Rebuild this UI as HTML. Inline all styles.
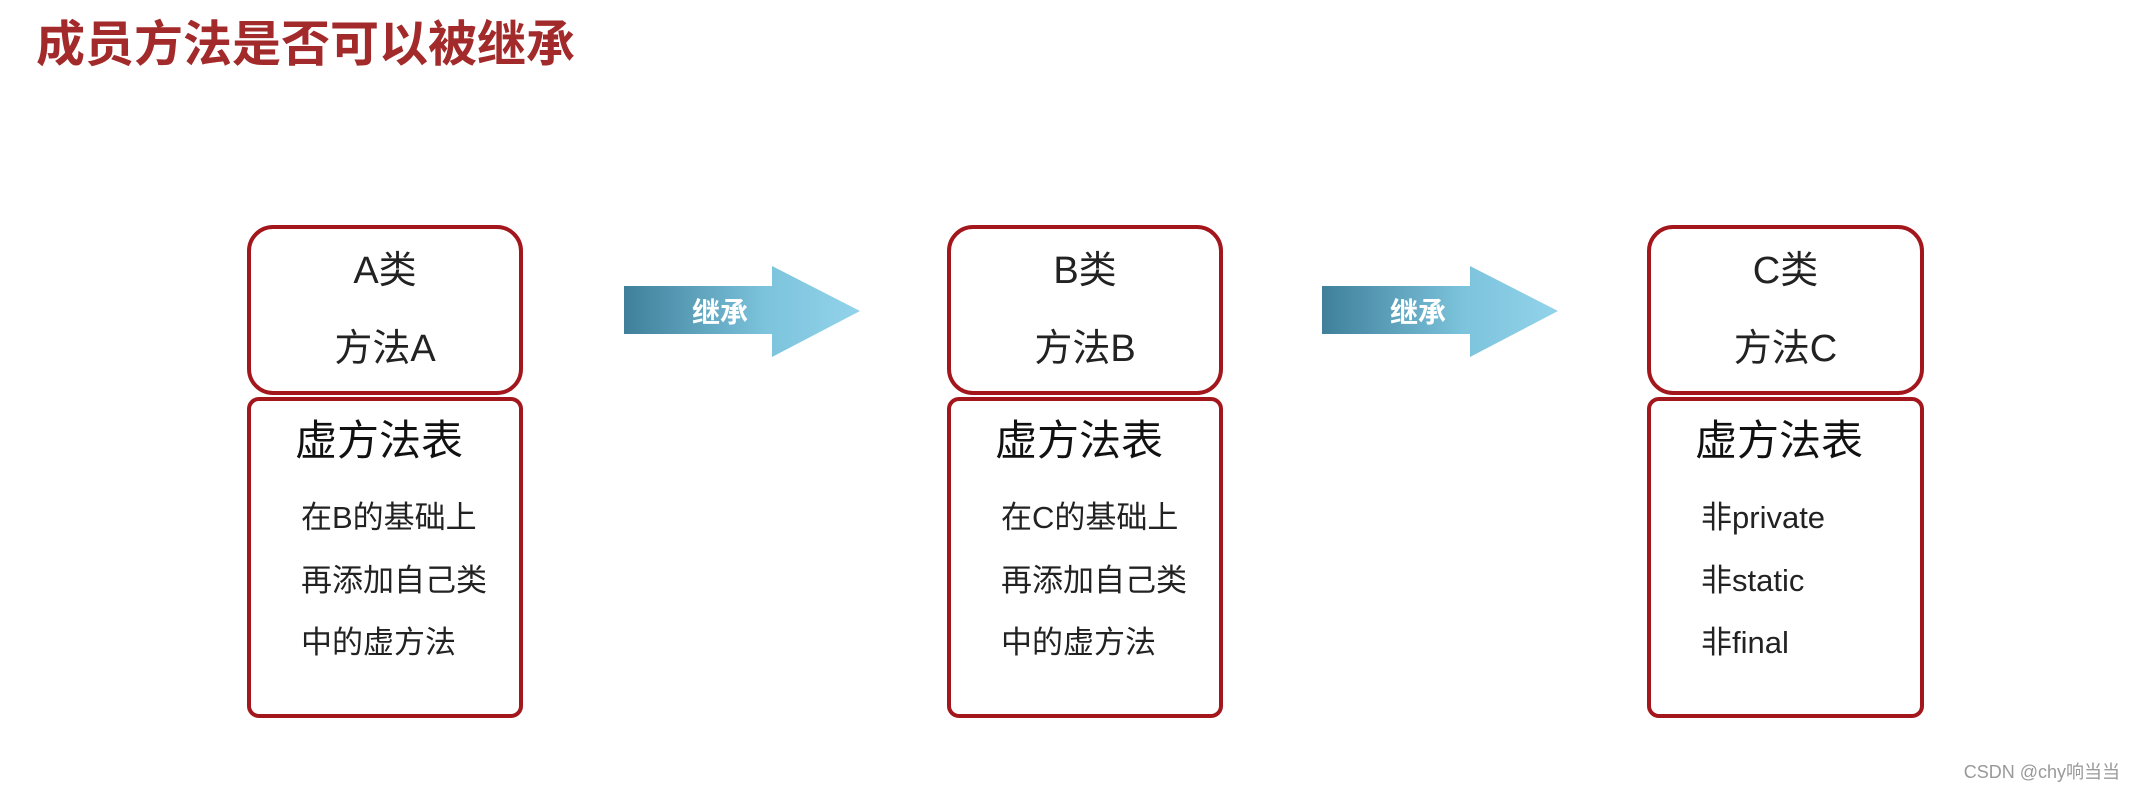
<!DOCTYPE html>
<html><head><meta charset="utf-8"><style>
body{margin:0;width:2132px;height:794px;background:#fff;position:relative;overflow:hidden;font-family:"Liberation Sans","Noto Sans CJK SC",sans-serif;color:#222}
.t{position:absolute;white-space:nowrap}
.box{position:absolute;border:4px solid #a3171c;box-sizing:border-box;background:#fff}
</style></head><body>
<div class="t" style="left:36px;top:16px;font-size:49px;font-weight:bold;color:#a32a2a;line-height:58px">成员方法是否可以被继承</div>

<svg width="2132" height="794" style="position:absolute;left:0;top:0">
<defs><linearGradient id="g" x1="0" x2="1"><stop offset="0" stop-color="#3f7f9a"/><stop offset="0.6" stop-color="#7cc3dc"/><stop offset="1" stop-color="#92d3ea"/></linearGradient></defs>
<g><path d="M624 286 H772 V266 L860 311 L772 357 V334 H624 Z" fill="url(#g)" stroke-linejoin="round"/>
<text x="720" y="322" font-size="28" font-weight="bold" fill="#fff" text-anchor="middle" font-family="Noto Sans CJK SC,sans-serif">继承</text></g>
<g><path d="M1322 286 H1470 V266 L1558 311 L1470 357 V334 H1322 Z" fill="url(#g)"/>
<text x="1418" y="322" font-size="28" font-weight="bold" fill="#fff" text-anchor="middle" font-family="Noto Sans CJK SC,sans-serif">继承</text></g>
</svg>

<!-- A -->
<div class="box" style="left:247px;top:225px;width:276px;height:170px;border-radius:26px"></div>
<div class="box" style="left:247px;top:397px;width:276px;height:321px;border-radius:12px"></div>
<div class="t" style="left:247px;width:276px;text-align:center;top:239px;font-size:38px">A类</div>
<div class="t" style="left:247px;width:276px;text-align:center;top:317px;font-size:38px">方法A</div>
<div class="t" style="left:295px;top:407px;font-size:42px;color:#111">虚方法表</div>
<div class="t" style="left:301px;top:498px;font-size:31px;line-height:40px">在B的基础上</div>
<div class="t" style="left:301px;top:561px;font-size:31px;line-height:40px">再添加自己类</div>
<div class="t" style="left:301px;top:623px;font-size:31px;line-height:40px">中的虚方法</div>

<!-- B -->
<div class="box" style="left:947px;top:225px;width:276px;height:170px;border-radius:26px"></div>
<div class="box" style="left:947px;top:397px;width:276px;height:321px;border-radius:12px"></div>
<div class="t" style="left:947px;width:276px;text-align:center;top:239px;font-size:38px">B类</div>
<div class="t" style="left:947px;width:276px;text-align:center;top:317px;font-size:38px">方法B</div>
<div class="t" style="left:995px;top:407px;font-size:42px;color:#111">虚方法表</div>
<div class="t" style="left:1001px;top:498px;font-size:31px;line-height:40px">在C的基础上</div>
<div class="t" style="left:1001px;top:561px;font-size:31px;line-height:40px">再添加自己类</div>
<div class="t" style="left:1001px;top:623px;font-size:31px;line-height:40px">中的虚方法</div>

<!-- C -->
<div class="box" style="left:1647px;top:225px;width:277px;height:170px;border-radius:26px"></div>
<div class="box" style="left:1647px;top:397px;width:277px;height:321px;border-radius:12px"></div>
<div class="t" style="left:1647px;width:277px;text-align:center;top:239px;font-size:38px">C类</div>
<div class="t" style="left:1647px;width:277px;text-align:center;top:317px;font-size:38px">方法C</div>
<div class="t" style="left:1695px;top:407px;font-size:42px;color:#111">虚方法表</div>
<div class="t" style="left:1701px;top:498px;font-size:31px;line-height:40px">非private</div>
<div class="t" style="left:1701px;top:561px;font-size:31px;line-height:40px">非static</div>
<div class="t" style="left:1701px;top:623px;font-size:31px;line-height:40px">非final</div>

<div class="t" style="right:12px;top:758px;font-size:18px;color:#999">CSDN @chy响当当</div>
</body></html>
